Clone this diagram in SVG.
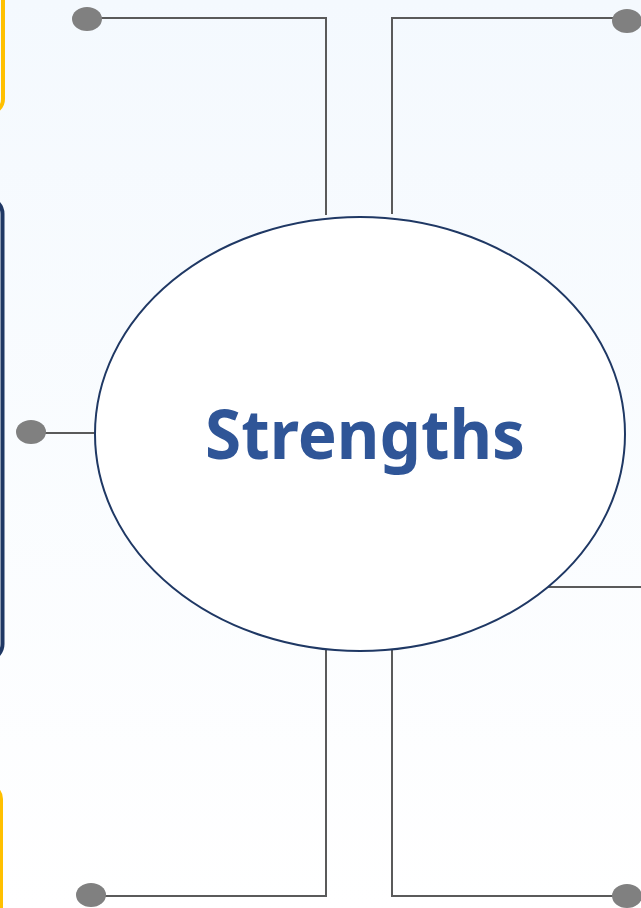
<svg xmlns="http://www.w3.org/2000/svg" width="641" height="908" viewBox="0 0 641 908">
<defs>
<linearGradient id="bg" x1="0" y1="0" x2="0" y2="1">
<stop offset="0" stop-color="#F4F9FE"/>
<stop offset="1" stop-color="#FFFFFF"/>
</linearGradient>
</defs>
<style>
.conn{fill:none;stroke:#5A5A5A;stroke-width:2}
.dot{fill:#808080}
.frame{fill:none;stroke-width:4}
</style>
<rect width="641" height="908" fill="url(#bg)"/>
<g id="frames">
<rect class="frame" x="-40" y="-20" width="43" height="133" rx="14" stroke="#FFC000"/>
<rect class="frame" x="-40" y="198" width="42.5" height="462" rx="16" stroke="#1F3864" stroke-width="5"/>
<rect class="frame" x="-40" y="785" width="41" height="160" rx="14" stroke="#FFC000"/>
</g>
<g id="connectors">
<polyline class="conn" points="100,18 326,18 326,215"/>
<polyline class="conn" points="615,18 392,18 392,214"/>
<line class="conn" x1="44" y1="433" x2="96" y2="433"/>
<line class="conn" x1="548" y1="587" x2="641" y2="587"/>
<polyline class="conn" points="102,896 326,896 326,648"/>
<polyline class="conn" points="614,896 392,896 392,648"/>
</g>
<g id="center">
<ellipse cx="360" cy="434" rx="265" ry="217" fill="#FFFFFF" stroke="#1F3864" stroke-width="2"/>
<text x="365" y="459" text-anchor="middle" font-family="'Noto Sans', 'Open Sans', sans-serif" font-weight="bold" font-size="68" textLength="320" lengthAdjust="spacingAndGlyphs" fill="#2F5597">Strengths</text>
</g>
<g id="dot-top-left"><ellipse class="dot" cx="87" cy="19" rx="15" ry="12"/></g>
<g id="dot-top-right"><ellipse class="dot" cx="627" cy="21" rx="15" ry="12"/></g>
<g id="dot-left"><ellipse class="dot" cx="31" cy="432" rx="15" ry="12"/></g>
<g id="dot-bottom-left"><ellipse class="dot" cx="91" cy="895" rx="15" ry="12"/></g>
<g id="dot-bottom-right"><ellipse class="dot" cx="627" cy="896" rx="15" ry="12"/></g>
</svg>
